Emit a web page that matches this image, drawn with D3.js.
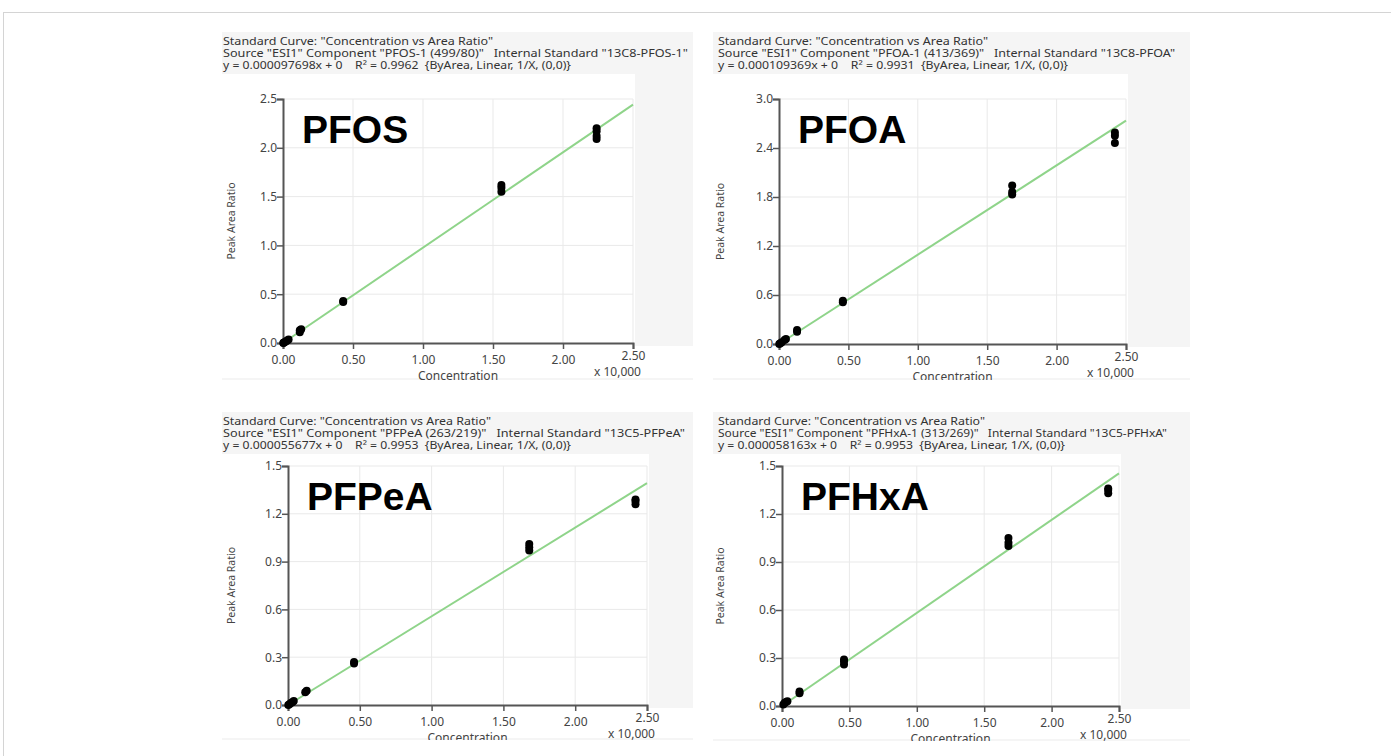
<!DOCTYPE html>
<html>
<head>
<meta charset="utf-8">
<script src="https://cdn.jsdelivr.net/npm/d3@7"></script>
<style>
  body { margin: 0; background: #fff; }
  svg text { font-family: "Noto Sans", "Open Sans", sans-serif; }
</style>
</head>
<body>
<div id="chart"></div>
<script>
// compounds shown in the four panels
let compounds = ['PFOS', 'PFOA', 'PFPeA', 'PFHxA'];
let componentNames = ['PFOS-1 (499/80)', 'PFOA-1 (413/369)', 'PFPeA (263/219)', 'PFHxA-1 (313/269)'];
let internalStandards = ['13C8-PFOS-1', '13C8-PFOA', '13C5-PFPeA', '13C5-PFHxA'];
let slopes = [0.000097698, 0.000109369, 0.000055677, 0.000058163];
let slopeLabels = ['0.000097698', '0.000109369', '0.000055677', '0.000058163'];
let r2Labels = ['0.9962', '0.9931', '0.9953', '0.9953'];

// tick labels
let xTicks = [0, 0.5, 1.0, 1.5, 2.0, 2.5];
let yTicksPFOS = [0, 0.5, 1.0, 1.5, 2.0, 2.5];
let yTicksPFOA = [0, 0.6, 1.2, 1.8, 2.4, 3.0];
let yTicksPFPeA = [0, 0.3, 0.6, 0.9, 1.2, 1.5];
let yTicksPFHxA = [0, 0.3, 0.6, 0.9, 1.2, 1.5];

// calibration points: concentration (x 10,000) and peak area ratio
let concPFOS = [0.002, 0.005, 0.01, 0.02, 0.03, 0.04, 0.12, 0.12, 0.13, 0.43, 0.43, 1.56, 1.56, 1.56, 2.24, 2.24, 2.24, 2.24];
let ratioPFOS = [0.0, 0.003, 0.008, 0.015, 0.025, 0.035, 0.11, 0.13, 0.14, 0.42, 0.43, 1.55, 1.59, 1.62, 2.09, 2.12, 2.17, 2.20];
let concPFOA = [0.002, 0.01, 0.02, 0.04, 0.05, 0.13, 0.13, 0.46, 0.46, 1.68, 1.68, 1.68, 2.42, 2.42, 2.42];
let ratioPFOA = [0.0, 0.01, 0.02, 0.05, 0.06, 0.15, 0.17, 0.51, 0.53, 1.83, 1.86, 1.94, 2.46, 2.55, 2.59];
let concPFPeA = [0.002, 0.01, 0.02, 0.03, 0.04, 0.12, 0.13, 0.46, 0.46, 1.68, 1.68, 1.68, 2.42, 2.42, 2.42];
let ratioPFPeA = [0.0, 0.005, 0.012, 0.018, 0.025, 0.08, 0.09, 0.26, 0.27, 0.97, 0.99, 1.01, 1.26, 1.28, 1.29];
let concPFHxA = [0.01, 0.02, 0.03, 0.04, 0.13, 0.13, 0.46, 0.46, 0.46, 1.68, 1.68, 1.68, 2.42, 2.42, 2.42];
let ratioPFHxA = [0.01, 0.02, 0.025, 0.03, 0.08, 0.09, 0.26, 0.28, 0.29, 1.00, 1.02, 1.05, 1.33, 1.35, 1.36];

let yTickSets = [yTicksPFOS, yTicksPFOA, yTicksPFPeA, yTicksPFHxA];
let concSets = [concPFOS, concPFOA, concPFPeA, concPFHxA];
let ratioSets = [ratioPFOS, ratioPFOA, ratioPFPeA, ratioPFHxA];

// panel boxes and plot areas (page pixels)
let panelBoxes = [
    {x: 222, y: 32, w: 471, h: 348},
    {x: 713, y: 32, w: 477, h: 348},
    {x: 222, y: 412, w: 471, h: 328},
    {x: 713, y: 412, w: 477, h: 329}
];
let plotBoxes = [
    {left: 283, right: 633, top: 99, bottom: 343},
    {left: 779, right: 1126, top: 99, bottom: 344},
    {left: 288, right: 647, top: 466, bottom: 705},
    {left: 782, right: 1119, top: 466, bottom: 706}
];
let headerWidths = [
    [270, 465, 348],
    [270, 457, 350],
    [268, 462, 348],
    [267, 449, 347]
];

let totalWidth = 1391;
let totalHeight = 756;

var svg = d3.select("#chart").append("svg")
    .attr("width", totalWidth)
    .attr("height", totalHeight);

// outer frame
svg.append("rect")
    .attr("x", 3.5)
    .attr("y", 12.5)
    .attr("width", 1400)
    .attr("height", 800)
    .attr("fill", "none")
    .attr("stroke", "#d4d4d4");

compounds.forEach(function(name, i) {
    let box = panelBoxes[i];
    let pb = plotBoxes[i];
    let yTicks = yTickSets[i];

    let g = svg.append("g");

    let clipId = "clip" + i;
    svg.append("clipPath").attr("id", clipId)
        .append("rect")
        .attr("x", box.x).attr("y", box.y)
        .attr("width", box.w).attr("height", box.h);
    g.attr("clip-path", "url(#" + clipId + ")");

    // panel background
    g.append("rect")
        .attr("x", box.x).attr("y", box.y)
        .attr("width", box.w).attr("height", box.h)
        .attr("fill", "#f5f5f5");
    g.append("rect")
        .attr("x", box.x).attr("y", box.y + 42)
        .attr("width", pb.right - box.x + 2).attr("height", box.h - 44)
        .attr("fill", "#ffffff");
    g.append("rect")
        .attr("x", box.x).attr("y", pb.bottom + 3)
        .attr("width", box.w).attr("height", box.y + box.h - pb.bottom - 5)
        .attr("fill", "#ffffff");

    // header text
    let lines = [
        'Standard Curve: "Concentration vs Area Ratio"',
        'Source "ESI1" Component "' + componentNames[i] + '"   Internal Standard "' + internalStandards[i] + '"',
        'y = ' + slopeLabels[i] + 'x + 0    R\u00B2 = ' + r2Labels[i] + '  {ByArea, Linear, 1/X, (0,0)}'
    ];
    lines.forEach(function(line, k) {
        g.append("text")
            .attr("x", box.x + (i % 2 === 0 ? 1 : 5))
            .attr("y", box.y + 13 + k * 12)
            .attr("textLength", headerWidths[i][k])
            .attr("lengthAdjust", "spacingAndGlyphs")
            .style("white-space", "pre")
            .style("font-size", "10.5px")
            .style("fill", "#333")
            .text(line);
    });

    var x = d3.scaleLinear().domain([0, 2.5]).range([pb.left, pb.right]);
    var y = d3.scaleLinear().domain([0, yTicks[yTicks.length - 1]]).range([pb.bottom, pb.top]);

    // gridlines
    g.append("g").selectAll("line.vg")
        .data(xTicks.slice(1))
        .enter().append("line")
        .attr("x1", function(d) { return x(d); })
        .attr("x2", function(d) { return x(d); })
        .attr("y1", pb.top)
        .attr("y2", pb.bottom)
        .attr("stroke", "#e9e9e9");
    g.append("g").selectAll("line.hg")
        .data(yTicks.slice(1))
        .enter().append("line")
        .attr("x1", pb.left)
        .attr("x2", pb.right)
        .attr("y1", function(d) { return y(d); })
        .attr("y2", function(d) { return y(d); })
        .attr("stroke", "#e9e9e9");

    // regression line through origin
    let slope = slopes[i] * 10000;
    let xEnd = Math.min(2.5, y.domain()[1] / slope);
    g.append("line")
        .attr("x1", x(0)).attr("y1", y(0))
        .attr("x2", x(xEnd)).attr("y2", y(slope * xEnd))
        .attr("stroke", "#8fd48a")
        .attr("stroke-width", 2);

    // axes
    let xAxis = g.append("g")
        .attr("transform", "translate(0," + pb.bottom + ")")
        .call(d3.axisBottom(x).tickValues(xTicks).tickFormat(d3.format(".2f")).tickSizeOuter(0).tickSize(6));
    let yAxis = g.append("g")
        .attr("transform", "translate(" + pb.left + ",0)")
        .call(d3.axisLeft(y).tickValues(yTicks).tickFormat(d3.format(".1f")).tickSizeOuter(0).tickSize(6));
    [xAxis, yAxis].forEach(function(ax) {
        ax.select(".domain").attr("stroke", "#555").attr("stroke-width", 2);
        ax.selectAll(".tick line").attr("stroke", "#555").attr("stroke-width", 1.5);
        ax.selectAll(".tick text")
            .style("font-family", "Noto Sans, sans-serif")
            .style("font-size", "12px")
            .style("fill", "#444");
    });
    xAxis.selectAll(".tick text").attr("y", 12);
    yAxis.selectAll(".tick text").attr("x", -6);
    xAxis.selectAll(".tick text").filter(function(d) { return d === 2.5; }).attr("y", 8);

    // points
    let pts = concSets[i].map(function(c, k) { return {conc: c, ratio: ratioSets[i][k]}; });
    g.selectAll("circle.pt")
        .data(pts)
        .enter().append("circle")
        .attr("r", 4)
        .attr("cx", function(d) { return x(d.conc); })
        .attr("cy", function(d) { return y(d.ratio); })
        .style("fill", "#000");

    // axis titles
    g.append("text")
        .attr("x", (pb.left + pb.right) / 2)
        .attr("y", pb.bottom + 37)
        .style("text-anchor", "middle")
        .style("font-size", "12px")
        .style("fill", "#444")
        .text("Concentration");
    g.append("text")
        .attr("x", pb.right + 8)
        .attr("y", pb.bottom + 33)
        .style("text-anchor", "end")
        .style("font-size", "12px")
        .style("fill", "#444")
        .text("x 10,000");
    g.append("text")
        .attr("transform", "translate(" + (box.x + 13 + (i % 2 === 0 ? 0 : -2)) + "," + ((pb.top + pb.bottom) / 2) + ") rotate(-90)")
        .style("text-anchor", "middle")
        .style("font-size", "10.5px")
        .style("fill", "#444")
        .text("Peak Area Ratio");

    // compound label
    g.append("text")
        .attr("x", pb.left + 19)
        .attr("y", pb.top + 44)
        .style("font-family", "Liberation Sans, Arial, sans-serif")
        .style("font-weight", "bold")
        .style("font-size", "39px")
        .style("fill", "#000")
        .text(name);
});
</script>
</body>
</html>
